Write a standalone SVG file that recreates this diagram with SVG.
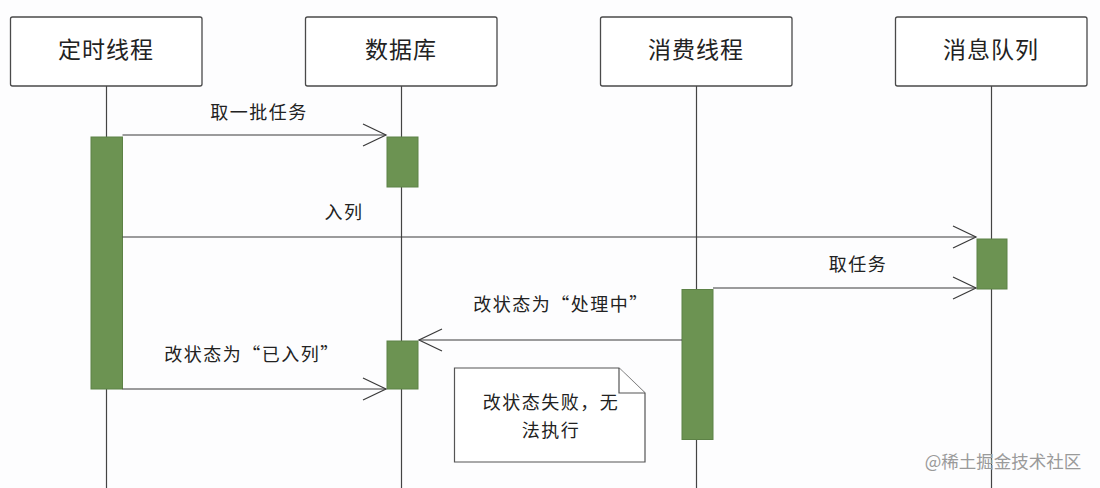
<svg xmlns="http://www.w3.org/2000/svg" width="1100" height="488" viewBox="0 0 1100 488">
<style>
.box{fill:#ffffff;stroke:#4a4a4a;stroke-width:1.3}
.life{stroke:#444;stroke-width:1.2}
.act{fill:#6c9352;stroke:#5d8246;stroke-width:1}
.msg{stroke:#3a3a3a;stroke-width:1.2;fill:none}
.head{fill:none;stroke:#3a3a3a;stroke-width:1.2}
.title{font-family:"Noto Sans CJK SC","Liberation Sans",sans-serif;font-size:23px;fill:#222;text-anchor:middle;letter-spacing:1px}
.lbl{font-family:"Noto Sans CJK SC","Liberation Sans",sans-serif;font-size:18px;fill:#222;text-anchor:middle;letter-spacing:1.5px}
.note{fill:#ffffff;stroke:#555;stroke-width:1.2}
.wm{font-family:"Noto Sans CJK SC","Liberation Sans",sans-serif;font-size:17.5px;fill:#9a9a9a;text-anchor:middle}
</style>
<rect width="1100" height="488" fill="#fdfdfe"/>

<g id="lifelines">
<line class="life" x1="106.5" y1="86" x2="106.5" y2="488"/>
<line class="life" x1="401.5" y1="86" x2="401.5" y2="488"/>
<line class="life" x1="696.5" y1="86" x2="696.5" y2="488"/>
<line class="life" x1="991.5" y1="86" x2="991.5" y2="488"/>
</g>

<g id="timer-thread">
<rect class="box" x="10.5" y="17" width="191.5" height="69" rx="2"/>
<text class="title" x="106" y="58">定时线程</text>
</g>
<g id="database">
<rect class="box" x="305.5" y="17" width="191.5" height="69" rx="2"/>
<text class="title" x="401" y="58">数据库</text>
</g>
<g id="consumer-thread">
<rect class="box" x="600.5" y="17" width="191.5" height="69" rx="2"/>
<text class="title" x="696" y="58">消费线程</text>
</g>
<g id="message-queue">
<rect class="box" x="895.5" y="17" width="191.5" height="69" rx="2"/>
<text class="title" x="991" y="58">消息队列</text>
</g>

<g id="activations">
<rect class="act" x="91" y="137" width="31.5" height="252"/>
<rect class="act" x="387" y="137" width="31" height="50"/>
<rect class="act" x="977" y="239" width="30" height="50"/>
<rect class="act" x="682" y="289.5" width="31" height="150"/>
<rect class="act" x="387" y="341" width="31" height="48"/>
</g>

<g id="connectors">
<line class="msg" x1="122.5" y1="135" x2="386" y2="135"/>
<polyline class="head" points="363,124 386,135 363,146"/>
<line class="msg" x1="122.5" y1="237" x2="976" y2="237"/>
<polyline class="head" points="953,226 976,237 953,248"/>
<line class="msg" x1="713" y1="288" x2="976" y2="288"/>
<polyline class="head" points="953,277 976,288 953,299"/>
<line class="msg" x1="682" y1="340" x2="419" y2="340"/>
<polyline class="head" points="442,329 419,340 442,351"/>
<line class="msg" x1="122.5" y1="389" x2="386" y2="389"/>
<polyline class="head" points="363,378 386,389 363,400"/>
</g>

<g id="labels">
<text class="lbl" x="259" y="119">取一批任务</text>
<text class="lbl" x="344" y="219">入列</text>
<text class="lbl" x="858" y="271">取任务</text>
<text class="lbl" x="561" y="311">改状态为“处理中”</text>
<text class="lbl" x="252" y="361">改状态为“已入列”</text>
</g>

<g id="note">
<path class="note" d="M454.5,368 L619,368 L645,393 L645,462 L454.5,462 Z"/>
<polyline class="note" points="619,368 619,393 645,393"/>
<text class="lbl" x="551" y="409">改状态失败，无</text>
<text class="lbl" x="551" y="437">法执行</text>
</g>

<text class="wm" x="1003" y="468">@稀土掘金技术社区</text>
</svg>
